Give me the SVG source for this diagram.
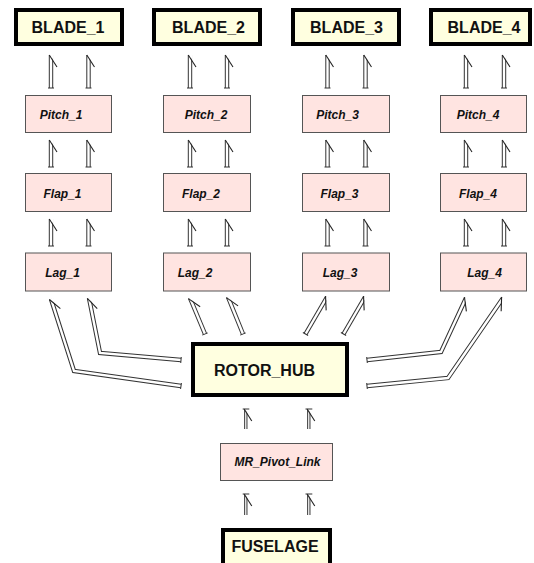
<svg xmlns="http://www.w3.org/2000/svg" width="534" height="563" viewBox="0 0 534 563">
<style>
.big rect{fill:#ffffe0;stroke:#000;stroke-width:4}
.sm rect{fill:#ffe4e1;stroke:#555;stroke-width:1}
.big text{font-family:"Liberation Sans",Arial,sans-serif;font-weight:bold;font-size:16px;fill:#111;text-anchor:middle}
.sm text{font-family:"Liberation Sans",Arial,sans-serif;font-weight:bold;font-style:italic;font-size:12px;fill:#111;text-anchor:middle}
.o{fill:none;stroke:#333;stroke-width:4.4}
.i{fill:none;stroke:#fff;stroke-width:2.4;marker-end:url(#tip);marker-start:url(#cap)}
.o2{fill:none;stroke:#333;stroke-width:3.3}
.i2{fill:none;stroke:#fff;stroke-width:1.3;marker-end:url(#tip)}
.bar{stroke:#333;stroke-width:1;fill:none}
</style>
<defs>
<marker id="tip" markerUnits="userSpaceOnUse" orient="auto" markerWidth="30" markerHeight="30" refX="0" refY="0" style="overflow:visible">
<polygon points="0.6,-1.0 0.6,2.9 -6.8,2.9" fill="#fff"/>
<path d="M0,-1.7 L-12,6" fill="none" stroke="#222" stroke-width="1.1"/>
</marker>
<marker id="cap" markerUnits="userSpaceOnUse" orient="auto" markerWidth="10" markerHeight="10" refX="0" refY="0" style="overflow:visible">
<path d="M0,-3 L0,3" fill="none" stroke="#333" stroke-width="1"/>
</marker>
</defs>

<g id="connectors">
<path class="o" d="M51,88 V55"/><path class="i" d="M51,88 V55"/>
<path class="o" d="M88.5,88 V55"/><path class="i" d="M88.5,88 V55"/>
<path class="o" d="M190,88 V55"/><path class="i" d="M190,88 V55"/>
<path class="o" d="M227,88 V55"/><path class="i" d="M227,88 V55"/>
<path class="o" d="M327.5,88 V55"/><path class="i" d="M327.5,88 V55"/>
<path class="o" d="M365.5,88 V55"/><path class="i" d="M365.5,88 V55"/>
<path class="o" d="M466,88 V55"/><path class="i" d="M466,88 V55"/>
<path class="o" d="M504,88 V55"/><path class="i" d="M504,88 V55"/>
<path class="o" d="M51,167 V140"/><path class="i" d="M51,167 V140"/>
<path class="o" d="M88.5,167 V140"/><path class="i" d="M88.5,167 V140"/>
<path class="o" d="M190,167 V140"/><path class="i" d="M190,167 V140"/>
<path class="o" d="M227,167 V140"/><path class="i" d="M227,167 V140"/>
<path class="o" d="M327.5,167 V140"/><path class="i" d="M327.5,167 V140"/>
<path class="o" d="M365.5,167 V140"/><path class="i" d="M365.5,167 V140"/>
<path class="o" d="M466,167 V140"/><path class="i" d="M466,167 V140"/>
<path class="o" d="M504,167 V140"/><path class="i" d="M504,167 V140"/>
<path class="o" d="M51,246 V219"/><path class="i" d="M51,246 V219"/>
<path class="o" d="M88.5,246 V219"/><path class="i" d="M88.5,246 V219"/>
<path class="o" d="M190,246 V219"/><path class="i" d="M190,246 V219"/>
<path class="o" d="M227,246 V219"/><path class="i" d="M227,246 V219"/>
<path class="o" d="M327.5,246 V219"/><path class="i" d="M327.5,246 V219"/>
<path class="o" d="M365.5,246 V219"/><path class="i" d="M365.5,246 V219"/>
<path class="o" d="M466,246 V219"/><path class="i" d="M466,246 V219"/>
<path class="o" d="M504,246 V219"/><path class="i" d="M504,246 V219"/>
<path class="o" d="M181,386 L74,371 L51,299"/><path class="i" d="M181,386 L74,371 L51,299"/>
<path class="o" d="M181,360 L100,353 L89,298"/><path class="i" d="M181,360 L100,353 L89,298"/>
<path class="o" d="M205,334 L190,298"/><path class="i" d="M205,334 L190,298"/>
<path class="o" d="M243,334 L228,297"/><path class="i" d="M243,334 L228,297"/>
<path class="o" d="M305.5,334 L327,297"/><path class="i" d="M305.5,334 L327,297"/>
<path class="o" d="M343.5,334 L365,297"/><path class="i" d="M343.5,334 L365,297"/>
<path class="o" d="M367,360 L441,352 L466,298"/><path class="i" d="M367,360 L441,352 L466,298"/>
<path class="o" d="M367,386 L448,378 L503,298"/><path class="i" d="M367,386 L448,378 L503,298"/>
<path class="o2" d="M245.8,429 V409"/><path class="i2" d="M245.8,429 V409"/><path class="bar" d="M242.7,409 H249.3"/>
<path class="o2" d="M308.8,429 V409"/><path class="i2" d="M308.8,429 V409"/><path class="bar" d="M305.5,409 H312.3"/>
<path class="o2" d="M245.8,515 V494"/><path class="i2" d="M245.8,515 V494"/><path class="bar" d="M242.7,494 H249.3"/>
<path class="o2" d="M308.8,515 V494"/><path class="i2" d="M308.8,515 V494"/><path class="bar" d="M305.5,494 H312.3"/>
</g>

<g id="BLADE_1" class="big"><rect x="16" y="10" width="106" height="34"/><text x="68" y="33">BLADE_1</text></g>
<g id="BLADE_2" class="big"><rect x="154" y="10" width="106" height="34"/><text x="208.5" y="33">BLADE_2</text></g>
<g id="BLADE_3" class="big"><rect x="293" y="10" width="106" height="34"/><text x="346.5" y="33">BLADE_3</text></g>
<g id="BLADE_4" class="big"><rect x="431" y="10" width="99" height="34"/><text x="484" y="33">BLADE_4</text></g>

<g id="Pitch_1" class="sm"><rect x="25.5" y="95.5" width="86" height="37"/><text x="61" y="119">Pitch_1</text></g>
<g id="Pitch_2" class="sm"><rect x="163.5" y="95.5" width="87" height="37"/><text x="206" y="119">Pitch_2</text></g>
<g id="Pitch_3" class="sm"><rect x="302.5" y="95.5" width="87" height="37"/><text x="337.5" y="119">Pitch_3</text></g>
<g id="Pitch_4" class="sm"><rect x="440.5" y="95.5" width="86" height="37"/><text x="478" y="119">Pitch_4</text></g>

<g id="Flap_1" class="sm"><rect x="25.5" y="173.5" width="86" height="38"/><text x="62.5" y="198">Flap_1</text></g>
<g id="Flap_2" class="sm"><rect x="163.5" y="173.5" width="87" height="38"/><text x="201" y="198">Flap_2</text></g>
<g id="Flap_3" class="sm"><rect x="302.5" y="173.5" width="87" height="38"/><text x="339.5" y="198">Flap_3</text></g>
<g id="Flap_4" class="sm"><rect x="440.5" y="173.5" width="86" height="38"/><text x="478" y="198">Flap_4</text></g>

<g id="Lag_1" class="sm"><rect x="25.5" y="253" width="86" height="38"/><text x="62.5" y="277">Lag_1</text></g>
<g id="Lag_2" class="sm"><rect x="163.5" y="253" width="87" height="38"/><text x="195" y="277">Lag_2</text></g>
<g id="Lag_3" class="sm"><rect x="302.5" y="253" width="87" height="38"/><text x="340" y="277">Lag_3</text></g>
<g id="Lag_4" class="sm"><rect x="440.5" y="253" width="86" height="38"/><text x="484.5" y="277">Lag_4</text></g>

<g id="ROTOR_HUB" class="big"><rect x="193" y="344" width="154" height="51"/><text x="264.5" y="376">ROTOR_HUB</text></g>
<g id="MR_Pivot_Link" class="sm"><rect x="220.5" y="443.5" width="112" height="37"/><text x="277.5" y="466">MR_Pivot_Link</text></g>
<g id="FUSELAGE" class="big"><rect x="223" y="530" width="107" height="40"/><text x="275" y="552">FUSELAGE</text></g>
</svg>
